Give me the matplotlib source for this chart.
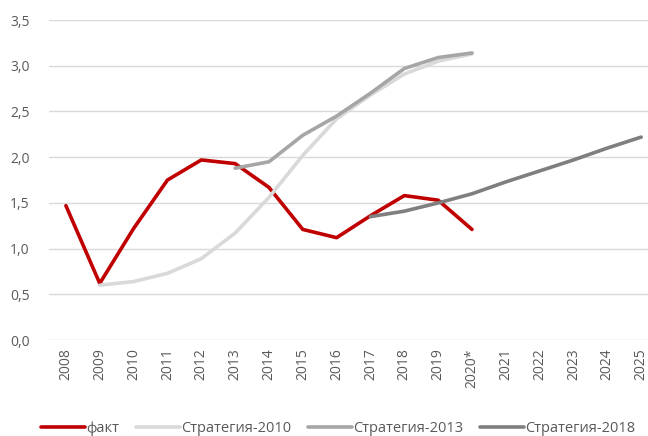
import numpy as np
import matplotlib.pyplot as plt

plt.rcParams['font.family'] = ['Open Sans', 'DejaVu Sans']

years = ['2008', '2009', '2010', '2011', '2012', '2013', '2014', '2015', '2016',
         '2017', '2018', '2019', '2020*', '2021', '2022', '2023', '2024', '2025']

# факт: 2008..2020
fakt = [1.47, 0.62, 1.22, 1.75, 1.97, 1.93, 1.67, 1.21, 1.12, 1.36, 1.58, 1.53, 1.21]
# Стратегия-2010: 2009..2020
s2010 = [0.60, 0.64, 0.73, 0.89, 1.17, 1.56, 2.02, 2.42, 2.68, 2.91, 3.05, 3.13]
# Стратегия-2013: 2013..2020
s2013 = [1.88, 1.95, 2.24, 2.45, 2.70, 2.97, 3.09, 3.14]
# Стратегия-2018: 2017..2025
s2018 = [1.35, 1.41, 1.50, 1.60, 1.73, 1.85, 1.97, 2.10, 2.22]

series = [
    ('факт', fakt, 0, '#C00000'),
    ('Стратегия-2010', s2010, 1, '#D9D9D9'),
    ('Стратегия-2013', s2013, 5, '#A6A6A6'),
    ('Стратегия-2018', s2018, 9, '#7F7F7F'),
]

fig = plt.figure(figsize=(6.48, 4.36), dpi=100)
ax = fig.add_axes([0.0756, 0.220, 0.94, 0.734])

x = np.arange(len(years))
for name, vals, start, col in series:
    xs = x[start:start + len(vals)]
    ax.plot(xs, vals, color=col, lw=2.6, label=name, solid_capstyle='round')

ax.set_xlim(-0.5, len(years) - 0.5)
ax.set_ylim(0, 3.5)
ax.set_yticks(np.arange(0, 3.51, 0.5))
ax.set_yticklabels([f'{v:.1f}'.replace('.', ',') for v in np.arange(0, 3.51, 0.5)])
ax.set_xticks(x)
ax.set_xticklabels(years, rotation=90)
ax.tick_params(length=0, colors='#595959', labelsize=10)
ax.tick_params(axis='y', pad=14)
ax.tick_params(axis='x', pad=6)
ax.grid(axis='y', color='#D9D9D9', lw=1)
ax.set_axisbelow(True)
for s in ax.spines.values():
    s.set_visible(False)

fig.legend(loc='lower center', bbox_to_anchor=(0.522, -0.03), ncol=4, frameon=False,
           handlelength=3.0, handletextpad=0.1, columnspacing=1.15,
           fontsize=10.5, labelcolor='#595959')

fig.savefig('out.png', dpi=100)
